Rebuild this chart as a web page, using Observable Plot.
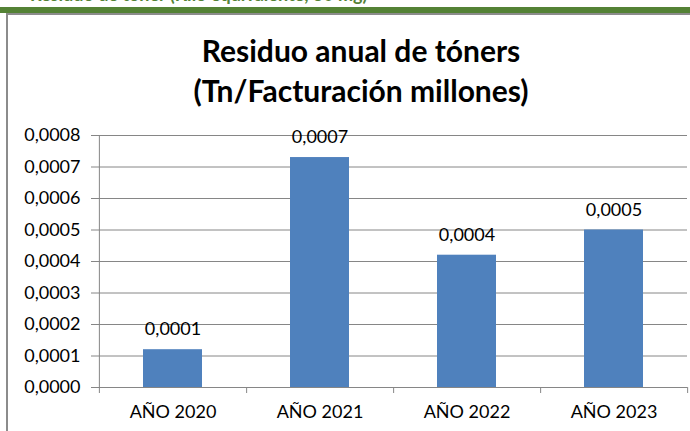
<!DOCTYPE html>
<html>
<head>
<meta charset="utf-8">
<script src="https://cdn.jsdelivr.net/npm/d3@7"></script>
<script src="https://cdn.jsdelivr.net/npm/@observablehq/plot@0.6"></script>
<style>
  html, body { margin: 0; padding: 0; background: #fff; }
  #wrap { position: relative; width: 690px; height: 431px; overflow: hidden; background: #fff; font-family: Lato, "Open Sans", sans-serif; }
  #band { position: absolute; left: 0; top: 7px; width: 690px; height: 6px; background: #548235; }
  #clip { position: absolute; left: 0; top: 0; width: 690px; height: 7px; overflow: hidden; }
  #clip span { position: absolute; left: 30px; top: -15px; font: bold 18px Lato, sans-serif; line-height: 18px; color: #548235; white-space: nowrap; }
  #frame { position: absolute; left: 6px; top: 13px; width: 720px; height: 440px; border-top: 2px solid #8c8c8c; border-left: 2px solid #8c8c8c; }
  #title { position: absolute; left: 16px; top: 30px; width: 690px; text-align: center; font: bold 30px Lato, sans-serif; line-height: 40px; color: #000; }
  #chart { position: absolute; left: 0; top: 0; }
</style>
</head>
<body>
<div id="wrap">
  <div id="clip"><span>Residuo de tóner (Kilo equivalente, 30 mg)</span></div>
  <div id="band"></div>
  <div id="frame"></div>
  <div id="title">Residuo anual de tóners<br>(Tn/Facturación millones)</div>
  <div id="chart"></div>
</div>
<script>
const categories = ["AÑO 2020", "AÑO 2021", "AÑO 2022", "AÑO 2023"];
const values = [0.00012, 0.00073, 0.00042, 0.0005];
const yTicks = [0, 0.0001, 0.0002, 0.0003, 0.0004, 0.0005, 0.0006, 0.0007, 0.0008];

const data = categories.map((c, i) => ({cat: c, value: values[i]}));
const fmt = d => d.toFixed(4).replace(".", ",");

const W = 690, H = 431, mL = 98, mR = 3, mT = 135, mB = 44;
const step = (W - mL - mR) / categories.length;
const frameH = H - mT - mB;
const gray = "#868686";

const chart = Plot.plot({
  width: W, height: H,
  marginLeft: mL, marginRight: mR, marginTop: mT, marginBottom: mB,
  style: {fontFamily: "Lato, 'Open Sans', sans-serif", fontSize: "18px", color: "#000", background: "transparent"},
  x: {domain: categories, paddingInner: 0.6, paddingOuter: 0.3, label: null},
  y: {domain: [0, 0.0008], label: null},
  marks: [
    Plot.gridY(yTicks, {stroke: gray, strokeOpacity: 1}),
    Plot.barY(data, {x: "cat", y: "value", fill: "#4f81bd"}),
    Plot.ruleX([categories[0]], {dx: -step / 2, stroke: gray, insetBottom: -6}),
    Plot.ruleX(categories, {dx: step / 2, stroke: gray, insetTop: frameH, insetBottom: -6}),
    Plot.axisY(yTicks, {tickSize: 7, tickPadding: 11, stroke: gray, tickFormat: fmt, fontSize: 18, fill: "#000"}),
    Plot.axisX({tickSize: 0, tickPadding: 18, fontSize: 18, fill: "#000"}),
    Plot.text(data, {x: "cat", y: "value", text: d => fmt(d.value), dy: -20, lineAnchor: "middle", fontSize: 18, fill: "#000"})
  ]
});
document.getElementById("chart").appendChild(chart);
</script>
</body>
</html>
